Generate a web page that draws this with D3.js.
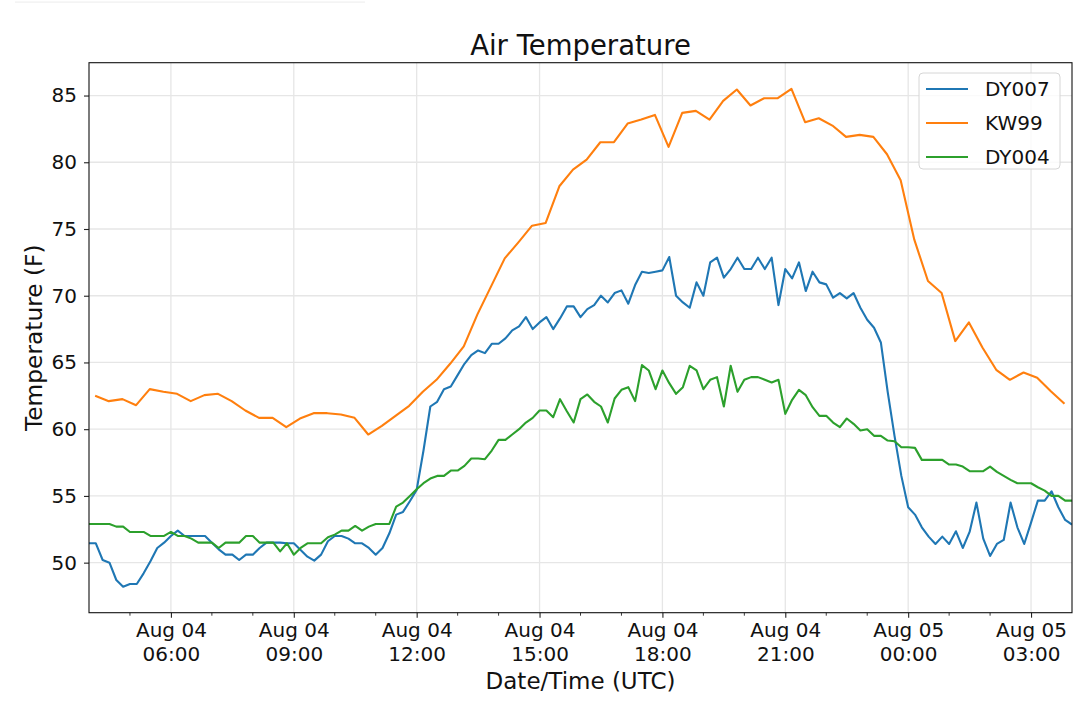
<!DOCTYPE html>
<html>
<head>
<meta charset="utf-8">
<script src="https://cdn.jsdelivr.net/npm/d3@7"></script>
<style>
  body { margin: 0; background: #fff; }
  svg { display: block; font-family: 'DejaVu Sans', sans-serif; }
</style>
</head>
<body>
<svg id="chart" width="1080" height="704"></svg>
<script>
// DY007 and DY004: one reading every 10 min from Aug 04 04:00 UTC
const dy007 = [
  51.45, 51.45, 50.2, 50.0, 48.7, 48.2, 48.4, 48.4, 49.2, 50.1,
  51.1, 51.5, 52.0, 52.4, 52.0, 52.0, 52.0, 52.0, 51.5, 51.0,
  50.6, 50.6, 50.2, 50.6, 50.6, 51.1, 51.5, 51.5, 51.5, 51.45,
  51.45, 50.95, 50.45, 50.15, 50.6, 51.6, 52.0, 52.0, 51.8, 51.45,
  51.45, 51.1, 50.6, 51.1, 52.2, 53.6, 53.8, 54.6, 55.45, 58.4,
  61.7, 62.05, 63.0, 63.2, 64.05, 64.9, 65.55, 65.9, 65.7, 66.4,
  66.4, 66.8, 67.4, 67.7, 68.4, 67.5, 68.0, 68.4, 67.5, 68.3,
  69.2, 69.2, 68.4, 69.0, 69.3, 70.0, 69.5, 70.2, 70.4, 69.4,
  70.8, 71.8, 71.7, 71.8, 71.9, 72.9, 70.0, 69.5, 69.1, 71.0,
  70.0, 72.5, 72.85, 71.35, 72.0, 72.85, 72.0, 72.0, 72.85, 72.0,
  72.85, 69.3, 72.0, 71.3, 72.5, 70.35, 71.8, 71.0, 70.85, 69.85,
  70.2, 69.8, 70.2, 69.1, 68.2, 67.6, 66.5, 62.8, 59.5, 56.5,
  54.15, 53.6, 52.65, 51.95, 51.4, 51.95, 51.4, 52.35, 51.1, 52.3,
  54.5, 51.8, 50.5, 51.4, 51.7, 54.5, 52.65, 51.4, 53.0, 54.65,
  54.65, 55.35, 54.15, 53.2, 52.85
];
const dy004 = [
  52.9, 52.9, 52.9, 52.9, 52.7, 52.7, 52.3, 52.3, 52.3, 52.0,
  52.0, 52.0, 52.3, 52.0, 52.0, 51.8, 51.5, 51.5, 51.5, 51.1,
  51.5, 51.5, 51.5, 52.0, 52.0, 51.5, 51.5, 51.5, 50.85, 51.45,
  50.6, 51.1, 51.45, 51.45, 51.45, 51.9, 52.1, 52.4, 52.4, 52.75,
  52.4, 52.7, 52.9, 52.9, 52.9, 54.2, 54.5, 55.0, 55.5, 55.95,
  56.3, 56.5, 56.5, 56.9, 56.9, 57.25, 57.8, 57.8, 57.75, 58.4,
  59.2, 59.2, 59.6, 60.0, 60.5, 60.85, 61.4, 61.4, 60.9, 62.25,
  61.35, 60.5, 62.25, 62.6, 62.05, 61.7, 60.5, 62.3, 62.95, 63.15,
  62.1, 64.8, 64.4, 63.0, 64.4, 63.45, 62.65, 63.15, 64.75, 64.4,
  63.0, 63.7, 63.9, 61.7, 64.75, 62.8, 63.7, 63.9, 63.9, 63.7,
  63.5, 63.7, 61.15, 62.2, 62.95, 62.55, 61.65, 61.0, 61.0, 60.5,
  60.15, 60.8, 60.4, 59.9, 60.0, 59.5, 59.5, 59.15, 59.1, 58.65,
  58.65, 58.6, 57.7, 57.7, 57.7, 57.7, 57.35, 57.35, 57.2, 56.85,
  56.85, 56.85, 57.2, 56.8, 56.5, 56.2, 55.95, 55.95, 55.95, 55.65,
  55.4, 55.0, 55.0, 54.65, 54.65
];
// KW99: one reading every 20 min from Aug 04 04:09 UTC
const kw99 = [
  62.5, 62.1, 62.25, 61.8, 63.0, 62.8, 62.65, 62.1, 62.55, 62.65,
  62.1, 61.4, 60.85, 60.85, 60.15, 60.8, 61.2, 61.2, 61.1, 60.85,
  59.6, 60.25, 61.0, 61.75, 62.8, 63.7, 64.9, 66.2, 68.6, 70.7,
  72.8, 74.0, 75.25, 75.45, 78.2, 79.45, 80.2, 81.5, 81.5, 82.9,
  83.2, 83.55, 81.15, 83.7, 83.85, 83.2, 84.6, 85.45, 84.25, 84.8,
  84.8, 85.5, 83.0, 83.3, 82.75, 81.9, 82.05, 81.9, 80.6, 78.65,
  74.2, 71.1, 70.2, 66.6, 68.0, 66.1, 64.45, 63.7, 64.25, 63.85,
  62.85, 61.9
];
const seriesNames = ['DY007', 'KW99', 'DY004'];
const seriesColors = ['#1f77b4', '#ff7f0e', '#2ca02c'];
const yTicks = [50, 55, 60, 65, 70, 75, 80, 85];

const t0 = new Date(Date.UTC(2019, 7, 4, 4, 0));
const t1 = d3.utcHour.offset(t0, 24);
const toPoints = (values, offsetMin, stepMin) =>
  values.map((v, i) => ({ t: d3.utcMinute.offset(t0, offsetMin + stepMin * i), v }));
const series = [
  toPoints(dy007, 0, 10),
  toPoints(kw99, 9, 20),
  toPoints(dy004, 0, 10),
];

const FONT = "'DejaVu Sans', sans-serif";
const svg = d3.select('#chart');
const margin = { top: 62.7, right: 8, bottom: 91.3, left: 89 };
const width = 1080, height = 704;
const innerWidth = width - margin.left - margin.right;
const innerHeight = height - margin.top - margin.bottom;

// faint strip at the very top left of the picture
svg.append('rect').attr('x', 15).attr('y', 1.5).attr('width', 350).attr('height', 1.2).attr('fill', '#f0f0f0');

const g = svg.append('g').attr('transform', `translate(${margin.left},${margin.top})`);

const x = d3.scaleUtc().domain([t0, t1]).range([0, innerWidth]);
const y = d3.scaleLinear().domain([46.25, 87.46]).range([innerHeight, 0]);

const majorTicks = d3.utcHour.every(3).range(t0, t1).filter((d) => d > t0);
const minorTicks = d3.utcHour.range(d3.utcHour.offset(t0, 1), t1)
  .filter((d) => d.getUTCHours() % 3 !== 0);

// grid
g.append('g').selectAll('line').data(majorTicks).join('line')
  .attr('x1', (d) => x(d)).attr('x2', (d) => x(d))
  .attr('y1', 0).attr('y2', innerHeight)
  .attr('stroke', '#e6e6e6').attr('stroke-width', 1.3);
g.append('g').selectAll('line').data(yTicks).join('line')
  .attr('x1', 0).attr('x2', innerWidth)
  .attr('y1', (d) => y(d)).attr('y2', (d) => y(d))
  .attr('stroke', '#e6e6e6').attr('stroke-width', 1.3);

// lines
g.append('clipPath').attr('id', 'clip').append('rect')
  .attr('width', innerWidth).attr('height', innerHeight);
const line = d3.line().x((d) => x(d.t)).y((d) => y(d.v));
const lineLayer = g.append('g').attr('clip-path', 'url(#clip)');
series.forEach((pts, i) => {
  lineLayer.append('path')
    .datum(pts)
    .attr('d', line)
    .attr('fill', 'none')
    .attr('stroke', seriesColors[i])
    .attr('stroke-width', 2.1)
    .attr('stroke-linejoin', 'round');
});

// x axis: major ticks with two-line labels, plain minor ticks every hour
const fmtDay = d3.utcFormat('%b %d');
const fmtTime = d3.utcFormat('%H:%M');
const xAxis = g.append('g').attr('transform', `translate(0,${innerHeight})`)
  .call(d3.axisBottom(x).tickValues(majorTicks).tickSize(5).tickFormat(''))
  .attr('font-family', FONT);
xAxis.select('.domain').remove();
xAxis.selectAll('.tick text').remove();
xAxis.selectAll('.tick line').attr('stroke', '#222').attr('stroke-width', 1.1);
xAxis.selectAll('.tick').each(function (d) {
  const tick = d3.select(this);
  tick.append('text').attr('x', 0).attr('y', 24.8).attr('text-anchor', 'middle')
    .attr('fill', '#111').attr('font-size', 20).text(fmtDay(d));
  tick.append('text').attr('x', 0).attr('y', 48).attr('text-anchor', 'middle')
    .attr('fill', '#111').attr('font-size', 20).text(fmtTime(d));
});
g.append('g').attr('transform', `translate(0,${innerHeight})`)
  .selectAll('line').data(minorTicks).join('line')
  .attr('x1', (d) => x(d)).attr('x2', (d) => x(d))
  .attr('y1', 0).attr('y2', 3)
  .attr('stroke', '#222').attr('stroke-width', 0.9);

const yAxis = g.append('g')
  .call(d3.axisLeft(y).tickValues(yTicks).tickSize(5).tickPadding(7))
  .attr('font-family', FONT);
yAxis.select('.domain').remove();
yAxis.selectAll('.tick line').attr('stroke', '#222').attr('stroke-width', 1.1);
yAxis.selectAll('.tick text').attr('fill', '#111').attr('font-size', 20);

// spines
g.append('rect').attr('width', innerWidth).attr('height', innerHeight)
  .attr('fill', 'none').attr('stroke', '#111').attr('stroke-width', 1.1);

// labels
svg.append('text').attr('x', margin.left + innerWidth / 2).attr('y', 55)
  .attr('text-anchor', 'middle').attr('font-size', 27.5).attr('fill', '#111')
  .text('Air Temperature');
svg.append('text').attr('x', margin.left + innerWidth / 2).attr('y', 689)
  .attr('text-anchor', 'middle').attr('font-size', 23).attr('fill', '#111')
  .text('Date/Time (UTC)');
svg.append('text')
  .attr('transform', `translate(42,${margin.top + innerHeight / 2}) rotate(-90)`)
  .attr('text-anchor', 'middle').attr('font-size', 23.3).attr('fill', '#111')
  .text('Temperature (F)');

// legend
const legend = svg.append('g').attr('transform', 'translate(919,73)');
legend.append('rect').attr('width', 141).attr('height', 96).attr('rx', 4)
  .attr('fill', '#fff').attr('fill-opacity', 0.8)
  .attr('stroke', '#d6d6d6').attr('stroke-width', 1);
seriesNames.forEach((name, i) => {
  const row = legend.append('g').attr('transform', `translate(0,${16 + i * 34})`);
  row.append('line').attr('x1', 7).attr('x2', 49).attr('y1', 0).attr('y2', 0)
    .attr('stroke', seriesColors[i]).attr('stroke-width', 2.1);
  row.append('text').attr('x', 66).attr('y', 7).attr('font-size', 20)
    .attr('fill', '#111').text(name);
});
</script>
</body>
</html>
